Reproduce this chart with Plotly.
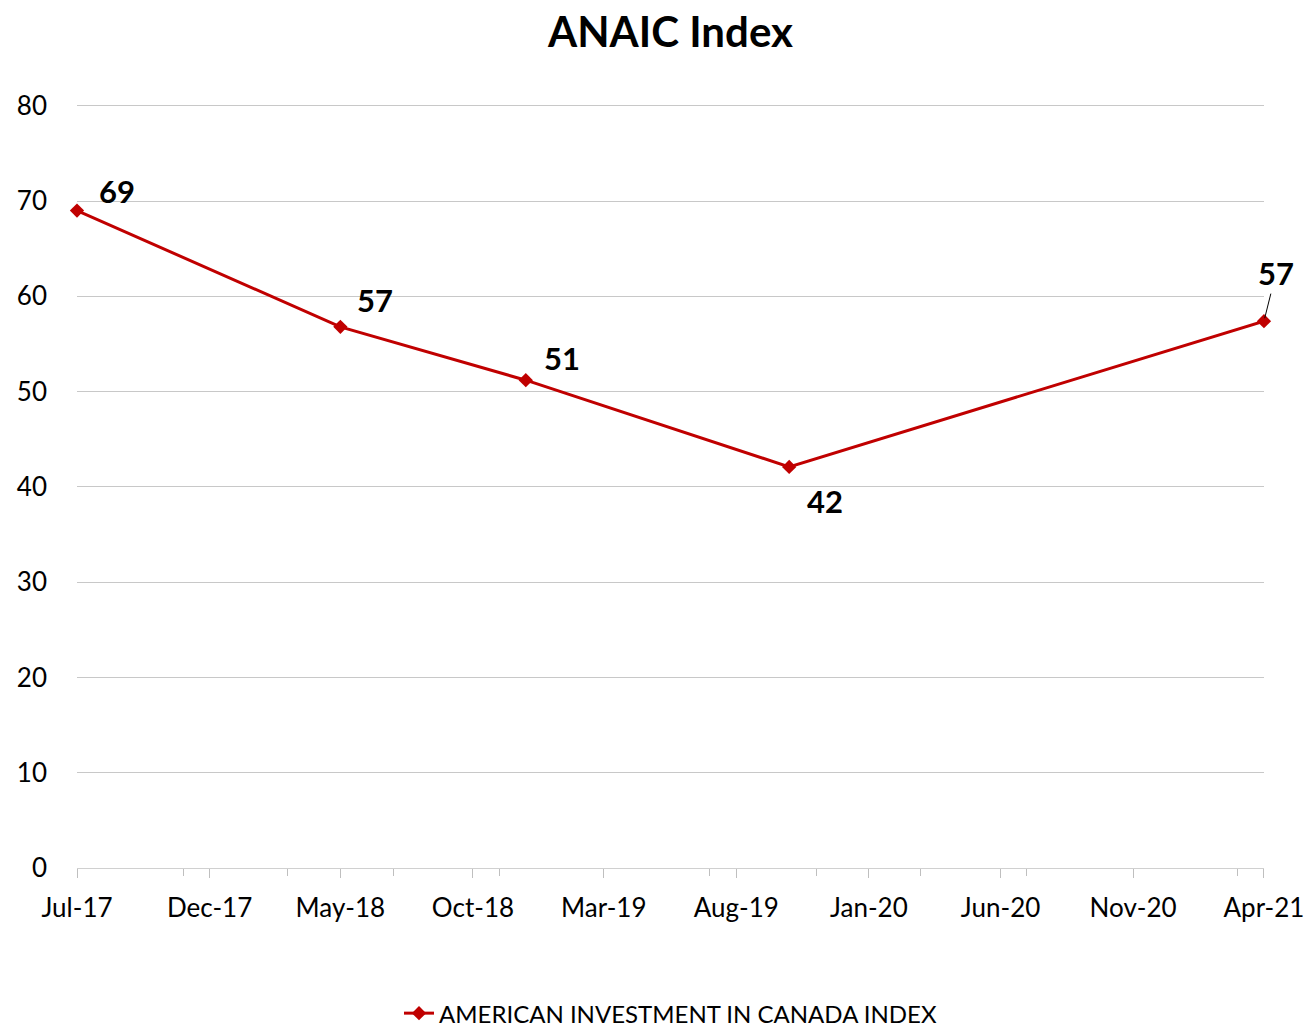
import plotly.graph_objects as go

dates = ["2017-07-01", "2018-05-01", "2018-12-01", "2019-10-01", "2021-04-01"]
values = [69.0, 56.8, 51.2, 42.1, 57.4]
series_name = "AMERICAN INVESTMENT IN CANADA INDEX"
title = "ANAIC Index"
# label offsets (pixels) relative to each point
label_dx = [40, 35, 36, 36, 12]
label_dy = [-20, -27, -22, 34, -48]

FONT = "Lato, 'Open Sans', sans-serif"
RED = "#C00000"

fig = go.Figure()
fig.add_trace(go.Scatter(
    x=dates, y=values, mode="lines+markers", name=series_name,
    line=dict(color=RED, width=3),
    marker=dict(symbol="diamond", size=11, color=RED),
    cliponaxis=False,
))

for i, (d, v) in enumerate(zip(dates, values)):
    if i == len(values) - 1:
        fig.add_annotation(x=d, y=v, text=f"{v:.0f}", showarrow=True,
                           ax=label_dx[i], ay=label_dy[i], arrowhead=0,
                           arrowwidth=1, arrowcolor="black", standoff=3,
                           font=dict(family=FONT, size=31, color="black", weight="bold"))
    else:
        fig.add_annotation(x=d, y=v, text=f"{v:.0f}", showarrow=False,
                           xshift=label_dx[i], yshift=-label_dy[i],
                           font=dict(family=FONT, size=31, color="black", weight="bold"))

fig.update_layout(
    width=1306, height=1031,
    margin=dict(l=77, r=42, t=102, b=163, autoexpand=False),
    paper_bgcolor="white", plot_bgcolor="white",
    font=dict(family=FONT, size=26, color="black"),
    title=dict(text=title, x=0.5, xanchor="center", xref="paper",
               y=0.969, yanchor="middle", yref="container",
               font=dict(family=FONT, size=42, color="black", weight="bold")),
    showlegend=True,
    legend=dict(orientation="h", x=0.5, xanchor="center", y=-0.19, yanchor="middle",
                font=dict(family=FONT, size=24, color="black")),
)

fig.update_xaxes(
    type="date", range=["2017-07-01", "2021-04-01 01:00"], automargin=False,
    tick0="2017-07-01", dtick="M5", tickformat="%b-%y",
    ticks="outside", ticklen=9, tickcolor="#BFBFBF", tickwidth=1,
    showline=True, linecolor="#D0D0D0", linewidth=1,
    showgrid=False, zeroline=False, ticklabelstandoff=8,
    minor=dict(tick0="2017-07-01", dtick="M4", ticks="outside", ticklen=7,
               tickcolor="#BFBFBF", showgrid=False),
)
fig.update_yaxes(
    range=[0, 80.4], dtick=10, showgrid=True, gridcolor="#C8C8C8", gridwidth=1,
    showline=False, zeroline=False, ticks="", ticklabelstandoff=29, automargin=False,
)

fig.write_html("out.html", config={"displayModeBar": False},
               post_script="document.body.style.margin='0';")
